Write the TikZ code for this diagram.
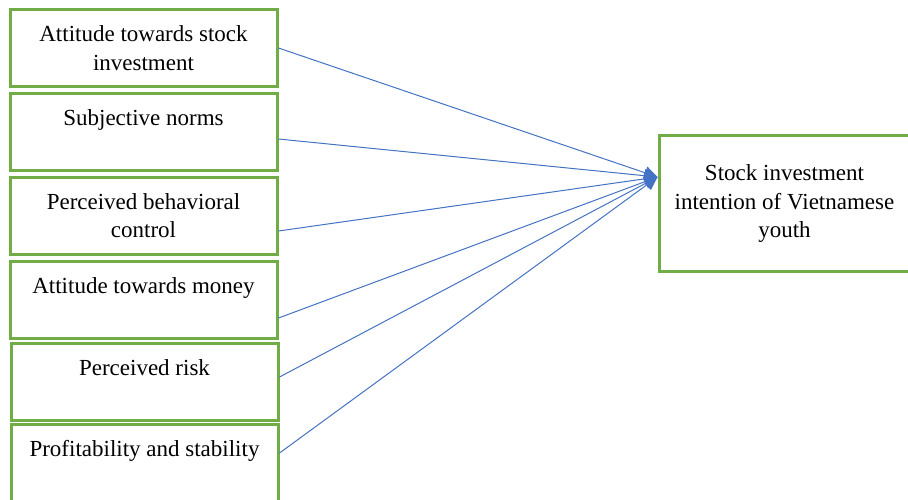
\documentclass[tikz,border=0pt]{standalone}
\usepackage{fontspec}
\setmainfont{Liberation Serif}
\usetikzlibrary{arrows.meta}
\definecolor{boxgreen}{RGB}{112,173,71}
\definecolor{lineblue}{RGB}{68,114,196}
\tikzset{
	factor/.style={draw=boxgreen, line width=1.5pt, minimum width=133.5pt, minimum height=38.5pt, align=center, font=\fontsize{11.5}{14.3}\selectfont},
	conn/.style={draw=lineblue, line width=0.5pt, -{Triangle[length=6.5pt,width=6.5pt]}}
}
\begin{document}
\begin{tikzpicture}[x=0.5pt,y=-0.5pt]
		\useasboundingbox (0,0) rectangle (908,499);

		\node [factor] (b1) at (143.5,48) {Attitude towards stock\\investment};
		\node [factor] (b2) at (143.5,132) {Subjective norms\\~};
		\node [factor] (b3) at (143.5,215.5) {Perceived behavioral\\control};
		\node [factor] (b4) at (143.5,300) {Attitude towards money\\~};
		\node [factor] (b5) at (144.5,382) {Perceived risk\\~};
		\node [factor] (b6) at (144.5,462.5) {Profitability and stability\\~};

		\node [factor, minimum width=125.5pt, minimum height=68pt] (out) at (784.5,203.5) {Stock investment\\intention of Vietnamese\\youth};

		\foreach \b/\y in {b1/48, b2/139, b3/231, b4/318, b5/377, b6/453}
			\draw [conn] (\b.east |- 0,\y) -- (out.west |- 0,177);
	\end{tikzpicture}
\end{document}
